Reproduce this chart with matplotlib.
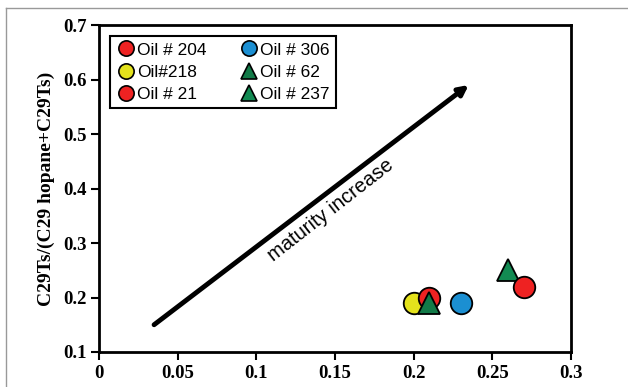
import matplotlib.pyplot as plt
from matplotlib.lines import Line2D

# data
names = ['Oil # 204', 'Oil#218', 'Oil # 21', 'Oil # 306', 'Oil # 62', 'Oil # 237']
x_vals = [0.21, 0.20, 0.27, 0.23, 0.21, 0.26]
y_vals = [0.20, 0.19, 0.22, 0.19, 0.19, 0.25]
markers = ['o', 'o', 'o', 'o', '^', '^']
colors = ['#ee2222', '#e4e21c', '#ee2222', '#1b8fd2', '#127a48', '#128a52']
arrow_start = (0.035, 0.15)
arrow_end = (0.235, 0.59)

fig = plt.figure(figsize=(6.28, 3.87), dpi=100)
ax = fig.add_axes([99 / 628, 1 - 352 / 387, 472 / 628, 327 / 387])

# grey frame of the picture
fig.add_artist(Line2D([6 / 628, 6 / 628], [0, 1 - 8 / 387], transform=fig.transFigure, color='#999999', lw=1))
fig.add_artist(Line2D([6 / 628, 1], [1 - 8 / 387, 1 - 8 / 387], transform=fig.transFigure, color='#999999', lw=1))

# plot order: back to front as in the picture
order = [1, 0, 4, 3, 5, 2]
for i in order:
    ms = 15.5 if markers[i] == 'o' else 16.5
    ax.plot(x_vals[i], y_vals[i], marker=markers[i], ms=ms, color=colors[i],
            mec='black', mew=1.3, ls='none', zorder=3)

ax.annotate('', xy=arrow_end, xytext=arrow_start,
            arrowprops=dict(arrowstyle='-|>', color='black', lw=3.5, mutation_scale=14,
                            shrinkA=0, shrinkB=0))
ax.text(0.147, 0.36, 'maturity increase', rotation=38, ha='center', va='center',
        fontsize=14.5, family='Liberation Sans')

ax.set_xlim(0, 0.3)
ax.set_ylim(0.1, 0.7)
ax.set_xticks([0, 0.05, 0.1, 0.15, 0.2, 0.25, 0.3])
ax.set_xticklabels(['0', '0.05', '0.1', '0.15', '0.2', '0.25', '0.3'])
ax.set_yticks([0.1, 0.2, 0.3, 0.4, 0.5, 0.6, 0.7])
ax.set_yticklabels(['0.1', '0.2', '0.3', '0.4', '0.5', '0.6', '0.7'])
for lab in ax.get_xticklabels() + ax.get_yticklabels():
    lab.set_family('Liberation Serif')
    lab.set_fontweight('bold')
    lab.set_fontsize(13.5)
ax.tick_params(direction='out', length=6, width=1.5, top=False, right=False, pad=3)
for s in ax.spines.values():
    s.set_linewidth(2)
ax.set_ylabel('C29Ts/(C29 hopane+C29Ts)', family='Liberation Serif', fontweight='bold',
              fontsize=14, labelpad=6)

handles = []
for i in range(len(names)):
    ms = 11 if markers[i] == 'o' else 12
    handles.append(Line2D([], [], marker=markers[i], ms=ms, color=colors[i], mec='black',
                          mew=1.2, ls='none', label=names[i]))
leg = ax.legend(handles=handles, ncol=2, loc='upper left', bbox_to_anchor=(0.005, 0.992),
                frameon=True, fancybox=False, edgecolor='black', framealpha=1,
                prop={'family': 'Liberation Sans', 'size': 12.5}, handletextpad=0.1,
                columnspacing=1.9, labelspacing=0.42, borderpad=0.35, handlelength=1.1)
leg.get_frame().set_linewidth(1.5)

fig.savefig('out.png', dpi=100)
